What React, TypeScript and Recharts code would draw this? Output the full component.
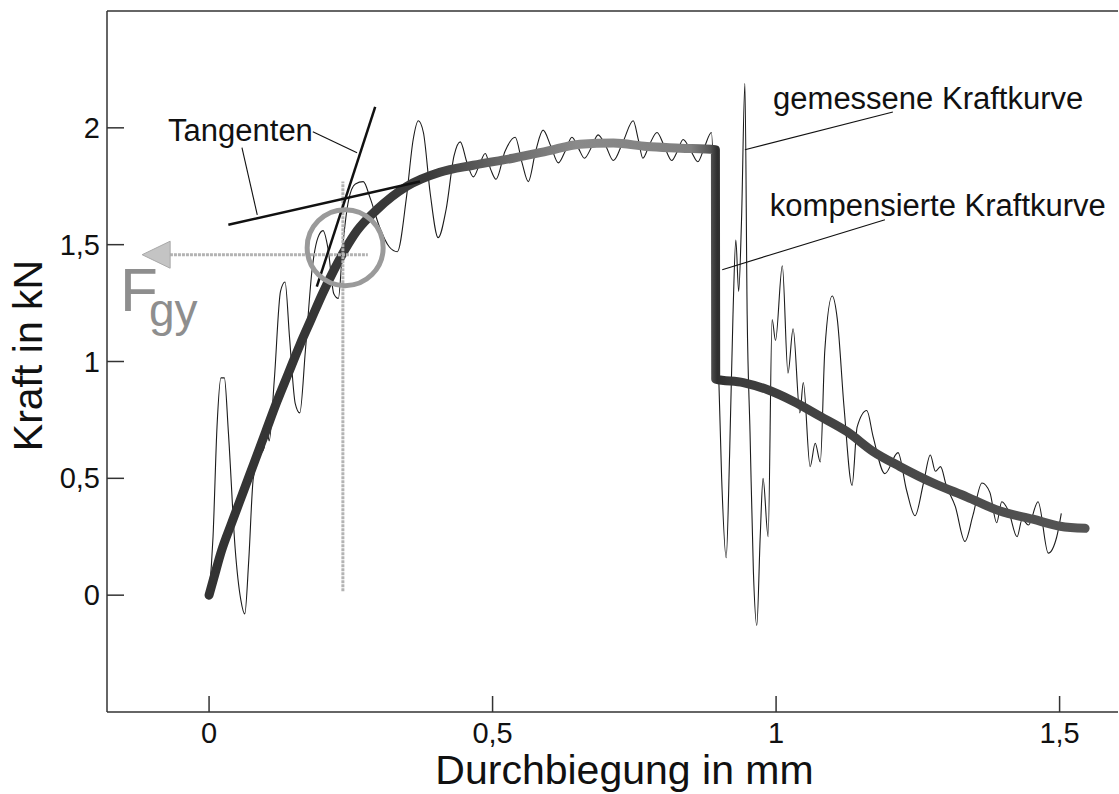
import React from 'react';
import {
  ComposedChart,
  Line,
  XAxis,
  YAxis,
  ReferenceLine,
  ReferenceDot,
  Label,
} from 'recharts';

const FONT = '"Liberation Sans", Arial, Helvetica, sans-serif';

// Durchbiegung in mm – gemessene Kraftkurve
const measuredX = [
  0.0, 0.007, 0.014, 0.021, 0.027, 0.034, 0.046, 0.056, 0.063, 0.07, 0.078, 0.09, 0.097, 0.101, 0.106,
  0.115, 0.126, 0.134, 0.142, 0.152, 0.16, 0.17, 0.182, 0.192, 0.201, 0.21, 0.22, 0.228, 0.236, 0.246,
  0.258, 0.272, 0.284, 0.3, 0.318, 0.332, 0.348, 0.36, 0.369, 0.378, 0.39, 0.404, 0.418, 0.432, 0.443,
  0.455, 0.466, 0.478, 0.487, 0.497, 0.506, 0.522, 0.54, 0.552, 0.563, 0.576, 0.589, 0.603, 0.616, 0.628,
  0.64, 0.652, 0.662, 0.675, 0.686, 0.7, 0.713, 0.73, 0.748, 0.757, 0.765, 0.777, 0.79, 0.803, 0.816,
  0.826, 0.836, 0.85, 0.862, 0.874, 0.886, 0.891, 0.897, 0.904, 0.912, 0.918, 0.924, 0.929, 0.934, 0.939,
  0.945, 0.949, 0.954, 0.96, 0.966, 0.972, 0.977, 0.986, 0.993, 0.999, 1.011, 1.021, 1.03, 1.042, 1.048,
  1.06, 1.069, 1.078, 1.086, 1.099, 1.108, 1.12, 1.134, 1.143, 1.16, 1.171, 1.192, 1.215, 1.23, 1.245,
  1.26, 1.272, 1.281, 1.29, 1.3, 1.316, 1.333, 1.347, 1.363, 1.377, 1.389, 1.398, 1.41, 1.425, 1.434,
  1.445, 1.462, 1.48, 1.495, 1.503,
];
// Kraft in kN – gemessene Kraftkurve
const measuredF = [
  0.0, 0.25, 0.72, 0.93, 0.93, 0.7, 0.2, -0.02, -0.08, 0.15, 0.5, 0.6, 0.63, 0.73, 0.66,
  0.92, 1.3, 1.34, 1.1, 0.82, 0.78, 1.05, 1.4, 1.53, 1.56, 1.48, 1.29, 1.27, 1.5, 1.69,
  1.76, 1.77, 1.7, 1.58, 1.49, 1.47, 1.7, 1.95, 2.03, 1.98, 1.72, 1.53, 1.65, 1.88, 1.94,
  1.85, 1.79, 1.85, 1.89, 1.82, 1.78, 1.9, 1.96, 1.85, 1.77, 1.9, 1.99, 1.92, 1.85, 1.9,
  1.96, 1.91, 1.87, 1.92, 1.97, 1.92, 1.86, 1.94, 2.03, 1.95, 1.87, 1.93, 1.98, 1.92, 1.86,
  1.9, 1.95, 1.9, 1.855, 1.92, 1.98, 1.7, 1.1, 0.5, 0.16, 0.6, 1.2, 1.52, 1.3, 1.6,
  2.19, 1.2, 0.7, 0.1, -0.13, 0.25, 0.5, 0.25, 1.18, 1.09, 1.41, 0.95, 1.14, 0.78, 0.91,
  0.55, 0.65, 0.57, 1.05, 1.28, 1.18, 0.8, 0.47, 0.72, 0.79, 0.68, 0.52, 0.61, 0.45, 0.34,
  0.48, 0.6, 0.53, 0.55, 0.47, 0.38, 0.23, 0.34, 0.48, 0.44, 0.31, 0.4, 0.36, 0.25, 0.325,
  0.3, 0.4, 0.18, 0.25, 0.35,
];

// Durchbiegung in mm – kompensierte Kraftkurve
const compensatedX = [
  0.0, 0.008, 0.022, 0.04, 0.06, 0.08, 0.1, 0.12, 0.14, 0.16, 0.18, 0.2, 0.22, 0.24, 0.261, 0.296,
  0.349, 0.407, 0.466, 0.536, 0.596, 0.654, 0.713, 0.772, 0.831, 0.893, 0.8935, 0.942, 0.984, 1.03,
  1.078, 1.125, 1.171, 1.219, 1.277, 1.337, 1.395, 1.453, 1.501, 1.545,
];
// Kraft in kN – kompensierte Kraftkurve
const compensatedF = [
  0.0, 0.07, 0.19, 0.31, 0.44, 0.57, 0.7, 0.83, 0.95, 1.07, 1.18, 1.29, 1.39, 1.48, 1.56, 1.65,
  1.75, 1.81, 1.84, 1.87, 1.9, 1.93, 1.935, 1.92, 1.913, 1.906, 0.925, 0.91, 0.88, 0.83,
  0.765, 0.7, 0.615, 0.55, 0.48, 0.42, 0.36, 0.325, 0.295, 0.286,
];

const xTicks = [0, 0.5, 1, 1.5];
const yTicks = [0, 0.5, 1, 1.5, 2];

// Tangenten (Anfangs- und Plateausteigung)
const tangentFlat = [{ x: 0.034, y: 1.585 }, { x: 0.372, y: 1.77 }];
const tangentSteep = [{ x: 0.19, y: 1.32 }, { x: 0.293, y: 2.09 }];

// Schnittpunkt -> Fgy
const gyX = 0.236;
const gyF = 1.457;

const measured = measuredX.map((x, i) => ({ x, y: measuredF[i] }));
const compensated = compensatedX.map((x, i) => ({ x, y: compensatedF[i] }));

const fmt = (v: number) => String(v).replace('.', ',');

const XTick = (props: any) => {
  const { x, y, payload } = props;
  return (
    <g>
      <line x1={x} y1={y} x2={x} y2={y - 16} stroke="#333" strokeWidth={1.5} />
      <text x={x} y={y + 31} textAnchor="middle" fontSize={29} fontFamily={FONT} fill="#111">
        {fmt(payload.value)}
      </text>
    </g>
  );
};

const YTick = (props: any) => {
  const { x, y, payload } = props;
  return (
    <g>
      <line x1={x} y1={y} x2={x + 17} y2={y} stroke="#333" strokeWidth={1.5} />
      <text x={x - 7} y={y + 10} textAnchor="end" fontSize={29} fontFamily={FONT} fill="#111">
        {fmt(payload.value)}
      </text>
    </g>
  );
};

const textShape =
  (label: string, size: number, fill = '#111') =>
  (p: any) => (
    <text x={p.cx} y={p.cy} fontSize={size} fontFamily={FONT} fill={fill}>
      {label}
    </text>
  );

// F mit tiefgestelltem gy
const fgyShape = (p: any) => (
  <text x={p.cx} y={p.cy} fontSize={62} fontFamily={FONT} fill="#8e8e8e">
    F
    <tspan dx={-9} dy={15} fontSize={46}>
      gy
    </tspan>
  </text>
);

const arrowHead = (p: any) => (
  <polygon
    points={`${p.cx},${p.cy} ${p.cx + 28},${p.cy - 13.5} ${p.cx + 28},${p.cy + 13.5}`}
    fill="#c4c4c4"
    stroke="#a8a8a8"
    strokeWidth={1}
  />
);

const leader = { stroke: '#111', strokeWidth: 1.1 };

export default function App() {
  return (
    <div style={{ position: 'absolute', left: 0, top: 0, width: 1119, height: 794, background: '#fff' }}>
      <ComposedChart width={1119} height={794} margin={{ top: 11, right: 1, bottom: 0, left: 0 }}>
        <defs>
          <linearGradient id="compGrad" x1="0" y1="0" x2="1" y2="0">
            <stop offset="0" stopColor="#333" />
            <stop offset="0.25" stopColor="#3a3a3a" />
            <stop offset="0.33" stopColor="#666" />
            <stop offset="0.42" stopColor="#8a8a8a" />
            <stop offset="0.55" stopColor="#808080" />
            <stop offset="0.572" stopColor="#555" />
            <stop offset="0.58" stopColor="#2e2e2e" />
            <stop offset="0.6" stopColor="#3c3c3c" />
            <stop offset="1" stopColor="#555" />
          </linearGradient>
        </defs>
        <XAxis
          dataKey="x"
          type="number"
          domain={[-0.18, 1.603]}
          allowDataOverflow
          ticks={xTicks}
          tick={<XTick />}
          tickLine={false}
          tickSize={0}
          tickMargin={0}
          height={82}
          axisLine={{ stroke: '#333', strokeWidth: 1.5 }}
        >
          <Label
            content={(p: any) => (
              <text
                x={p.viewBox.x + p.viewBox.width / 2 + 12}
                y={p.viewBox.y + 72}
                textAnchor="middle"
                fontSize={41}
                fontFamily={FONT}
                fill="#111"
              >
                Durchbiegung in mm
              </text>
            )}
          />
        </XAxis>
        <YAxis
          type="number"
          domain={[-0.5, 2.5]}
          allowDataOverflow
          ticks={yTicks}
          tick={<YTick />}
          tickLine={false}
          tickSize={0}
          tickMargin={0}
          width={107}
          axisLine={{ stroke: '#333', strokeWidth: 1.5 }}
        >
          <Label
            content={(p: any) => {
              const cx = p.viewBox.x + 42;
              const cy = p.viewBox.y + p.viewBox.height / 2 - 6;
              return (
                <text
                  x={cx}
                  y={cy}
                  transform={`rotate(-90 ${cx} ${cy})`}
                  textAnchor="middle"
                  fontSize={41}
                  fontFamily={FONT}
                  fill="#111"
                >
                  Kraft in kN
                </text>
              );
            }}
          />
        </YAxis>

        {/* oberer Rahmen */}
        <ReferenceLine y={2.5} stroke="#333" strokeWidth={1.5} />

        <Line
          data={measured}
          dataKey="y"
          type="monotone"
          stroke="#1c1c1c"
          strokeWidth={1.1}
          dot={false}
          isAnimationActive={false}
        />
        <Line
          data={compensated}
          dataKey="y"
          type="monotone"
          stroke="url(#compGrad)"
          strokeWidth={9}
          strokeLinecap="round"
          strokeLinejoin="round"
          dot={false}
          isAnimationActive={false}
        />

        {/* Fadenkreuz und Kreis um den Schnittpunkt */}
        <ReferenceLine
          segment={[{ x: gyX, y: 0.017 }, { x: gyX, y: 1.77 }]}
          stroke="#b3b3b3"
          strokeWidth={3}
          strokeDasharray="3 1"
          ifOverflow="visible"
        />
        <ReferenceLine
          segment={[{ x: -0.069, y: gyF }, { x: 0.28, y: gyF }]}
          stroke="#b3b3b3"
          strokeWidth={3}
          strokeDasharray="3 1"
          ifOverflow="visible"
        />
        <ReferenceDot x={-0.118} y={gyF} shape={arrowHead} ifOverflow="visible" />
        <ReferenceDot
          x={0.24}
          y={1.487}
          r={38}
          fill="none"
          stroke="#9a9a9a"
          strokeWidth={5}
          ifOverflow="visible"
        />

        {/* Tangenten */}
        <ReferenceLine segment={tangentFlat} stroke="#111" strokeWidth={2.5} ifOverflow="visible" />
        <ReferenceLine segment={tangentSteep} stroke="#111" strokeWidth={2.5} ifOverflow="visible" />

        {/* Hinweislinien */}
        <ReferenceLine segment={[{ x: 0.183, y: 1.983 }, { x: 0.261, y: 1.893 }]} {...leader} ifOverflow="visible" />
        <ReferenceLine segment={[{ x: 0.058, y: 1.915 }, { x: 0.085, y: 1.628 }]} {...leader} ifOverflow="visible" />
        <ReferenceLine segment={[{ x: 1.206, y: 2.068 }, { x: 0.945, y: 1.906 }]} {...leader} ifOverflow="visible" />
        <ReferenceLine segment={[{ x: 1.192, y: 1.607 }, { x: 0.905, y: 1.393 }]} {...leader} ifOverflow="visible" />

        {/* Beschriftungen */}
        <ReferenceDot x={-0.0723} y={1.944} shape={textShape('Tangenten', 31)} ifOverflow="visible" />
        <ReferenceDot x={0.9947} y={2.081} shape={textShape('gemessene Kraftkurve', 31)} ifOverflow="visible" />
        <ReferenceDot x={0.989} y={1.624} shape={textShape('kompensierte Kraftkurve', 31)} ifOverflow="visible" />
        <ReferenceDot x={-0.157} y={1.214} shape={fgyShape} ifOverflow="visible" />
      </ComposedChart>
    </div>
  );
}
